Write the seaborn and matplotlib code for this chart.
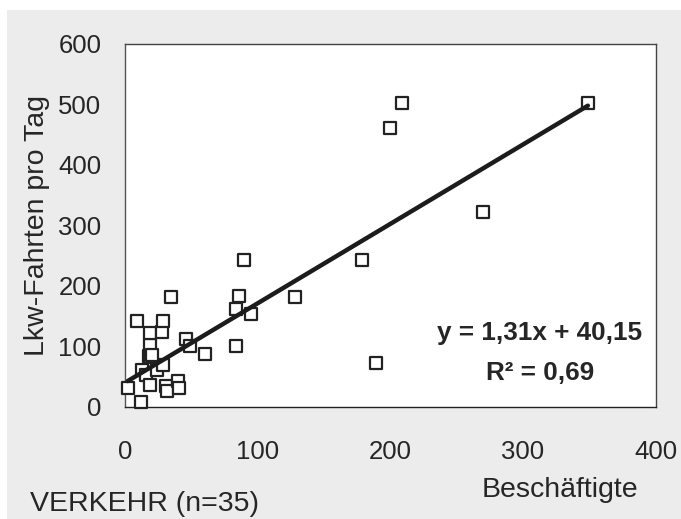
import numpy as np
import pandas as pd
import seaborn as sns
import matplotlib.pyplot as plt
from matplotlib.patches import Rectangle

# Beschäftigte vs. Lkw-Fahrten pro Tag, Branche Verkehr
beschaeftigte = [2, 9, 12, 13, 16, 19, 18, 19, 19, 19, 28, 29, 24, 29, 31, 32,
                 35, 40, 41, 46, 49, 60, 84, 84, 86, 90, 95, 128, 179, 189,
                 200, 209, 270, 349, 20]
lkw_fahrten = [31, 142, 8, 61, 53, 36, 84, 83, 102, 122, 123, 142, 61, 70, 34, 27,
               182, 43, 31, 113, 101, 87, 101, 161, 183, 242, 153, 182, 242, 72,
               461, 502, 322, 502, 86]

# Regression line coefficients and fit quality
slope = 1.31
intercept = 40.15
r_squared = 0.69

x_ticks = [0, 100, 200, 300, 400]
y_ticks = [0, 100, 200, 300, 400, 500, 600]

df = pd.DataFrame({"Beschäftigte": beschaeftigte, "Lkw": lkw_fahrten})
x_fit = np.array([min(beschaeftigte), max(beschaeftigte)])
fit = pd.DataFrame({"x": x_fit, "y": slope * x_fit + intercept})

sns.set_theme(style="white")
plt.rcParams["font.family"] = ["Liberation Sans", "DejaVu Sans"]

text_col = "#262626"
label_size = 20.5
fig = plt.figure(figsize=(6.81, 5.19), dpi=100)
fig.patch.set_facecolor("white")
# light grey panel behind everything, leaving a thin white margin top/left
fig.patches.append(Rectangle((7 / 681, 0), 1 - 7 / 681, 1 - 10 / 519,
                             transform=fig.transFigure, facecolor="#ececec",
                             edgecolor="none", zorder=-10))

ax = fig.add_axes([125 / 681, 1 - 407 / 519, (655.5 - 125) / 681, (407 - 43.5) / 519])
ax.set_zorder(1)
ax.set_facecolor("white")

sns.scatterplot(data=df, x="Beschäftigte", y="Lkw", ax=ax, marker="s", s=68,
                facecolor="white", edgecolor="#222222", linewidth=1.6, zorder=4,
                clip_on=False)
# trend line drawn on top of the markers
sns.lineplot(data=fit, x="x", y="y", ax=ax, color="#1c1c1c", linewidth=3.2,
             zorder=5)

ax.set_xlim(0, 400)
ax.set_ylim(0, 600)
ax.set_xticks(x_ticks)
ax.set_yticks(y_ticks)
ax.set_xticklabels([str(v) for v in x_ticks])
ax.set_yticklabels([str(v) for v in y_ticks])
ax.tick_params(axis="both", which="both", direction="out", length=7,
               width=1.0, color="#666666", labelsize=18.5, labelcolor=text_col)
ax.tick_params(axis="x", pad=17)
ax.tick_params(axis="y", pad=10)

for side in ["top", "right"]:
    ax.spines[side].set_color("#444444")
    ax.spines[side].set_linewidth(1.0)
ax.spines["left"].set_color("#555555")
ax.spines["left"].set_linewidth(1.0)
ax.spines["bottom"].set_color("#222222")
ax.spines["bottom"].set_linewidth(1.0)

ax.set_xlabel("")
ax.set_ylabel("Lkw-Fahrten pro Tag", fontsize=label_size, color=text_col,
              labelpad=6)

ax.text(390, 122, f"y = {slope:.2f}x + {intercept:.2f}".replace(".", ","),
        ha="right", va="center", fontsize=18.8, fontweight="bold", color=text_col)
ax.text(313, 56, f"R² = {r_squared:.2f}".replace(".", ","),
        ha="center", va="center", fontsize=18.8, fontweight="bold", color=text_col)

fig.text(560 / 681, 1 - 490 / 519, "Beschäftigte", ha="center", va="center",
         fontsize=label_size, color=text_col)
fig.text(30 / 681, 1 - 504 / 519, "VERKEHR (n=35)", ha="left", va="center",
         fontsize=label_size, color=text_col)

fig.savefig("out.png", dpi=100)
